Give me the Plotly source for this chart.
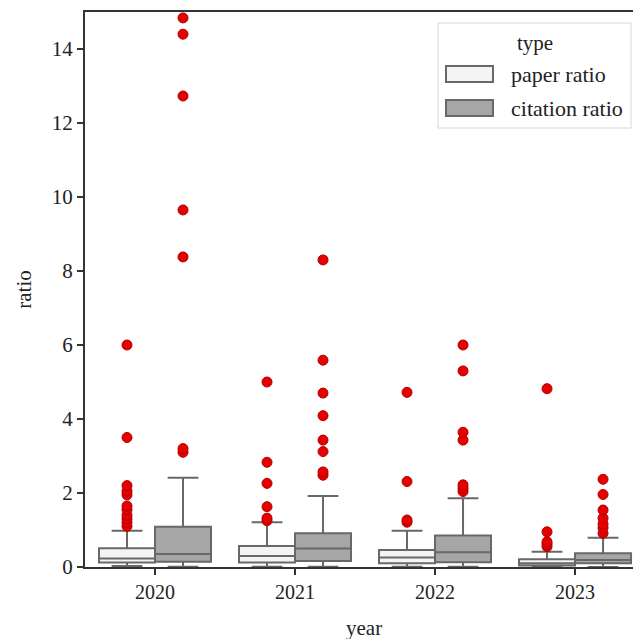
import plotly.graph_objects as go

years = ["2020", "2021", "2022", "2023"]

# paper ratio box stats
paper_q1 = [0.12, 0.12, 0.10, 0.04]
paper_med = [0.23, 0.30, 0.26, 0.10]
paper_q3 = [0.51, 0.57, 0.46, 0.21]
paper_lo = [0.03, 0.01, 0.01, 0.01]
paper_hi = [0.98, 1.21, 0.98, 0.41]
paper_out = [
    [1.1, 1.2, 1.3, 1.4, 1.55, 1.65, 1.95, 2.05, 2.2, 3.5, 6.0],
    [1.25, 1.32, 1.63, 2.26, 2.83, 5.0],
    [1.21, 1.27, 2.31, 4.72],
    [0.55, 0.62, 0.68, 0.95, 4.82],
]

# citation ratio box stats
cit_q1 = [0.14, 0.16, 0.13, 0.10]
cit_med = [0.35, 0.50, 0.40, 0.19]
cit_q3 = [1.09, 0.91, 0.85, 0.37]
cit_lo = [0.01, 0.01, 0.01, 0.0]
cit_hi = [2.41, 1.92, 1.86, 0.79]
cit_out = [
    [3.1, 3.2, 8.38, 9.65, 12.73, 14.4, 14.84],
    [2.48, 2.57, 3.12, 3.43, 4.09, 4.7, 5.59, 8.3],
    [2.04, 2.13, 2.22, 3.43, 3.64, 5.3, 6.0],
    [0.91, 1.06, 1.16, 1.32, 1.54, 1.96, 2.37],
]

series_names = ["paper ratio", "citation ratio"]
fills = ["#f4f4f4", "#a6a6a6"]

series = [
    (series_names[0], -0.2, paper_q1, paper_med, paper_q3, paper_lo, paper_hi, paper_out, fills[0]),
    (series_names[1], 0.2, cit_q1, cit_med, cit_q3, cit_lo, cit_hi, cit_out, fills[1]),
]

LINE = "#686868"
FONT = "Liberation Serif"
W, H = 633, 639
ML, MR, MT, MB = 85, 0, 12, 72
PW, PH = W - ML - MR, H - MT - MB


def px(xp):
    return (xp - ML) / PW


def py(yp):
    return (H - MB - yp) / PH


fig = go.Figure()
for name, off, q1, med, q3, lo, hi, out, fill in series:
    xs = [i + off for i in range(len(years))]
    fig.add_trace(go.Box(
        name=name, x=xs, q1=q1, median=med, q3=q3,
        lowerfence=lo, upperfence=hi,
        width=0.4, whiskerwidth=0.55,
        fillcolor=fill, line=dict(color=LINE, width=2),
        boxpoints=False, showlegend=False,
    ))
    ox, oy = [], []
    for i, vals in enumerate(out):
        for v in vals:
            ox.append(i + off)
            oy.append(v)
    fig.add_trace(go.Scatter(
        x=ox, y=oy, mode="markers", showlegend=False,
        marker=dict(color="#e60000", size=10, line=dict(color="#b00000", width=1)),
    ))

# legend drawn manually
shapes = [dict(type="rect", xref="paper", yref="paper",
               x0=px(438), x1=px(631), y0=py(128), y1=py(23),
               line=dict(color="#d6d6d6", width=1), fillcolor="white", layer="above")]
annotations = [dict(text="type", xref="paper", yref="paper", x=px(535), y=py(43),
                    xanchor="center", yanchor="middle", showarrow=False, font=dict(size=21))]
rows = [(66, 82, 75), (100, 116, 108)]
for (y0, y1, yc), nm, fc in zip(rows, series_names, fills):
    shapes.append(dict(type="rect", xref="paper", yref="paper",
                       x0=px(446), x1=px(493), y0=py(y1), y1=py(y0),
                       line=dict(color=LINE, width=2), fillcolor=fc, layer="above"))
    annotations.append(dict(text=nm, xref="paper", yref="paper", x=px(509), y=py(yc),
                            xanchor="left", yanchor="middle", showarrow=False, font=dict(size=22)))

annotations.append(dict(
    text="year", xref="paper", yref="paper", x=px(364), y=py(628),
    xanchor="center", yanchor="middle", showarrow=False, font=dict(size=21),
))

fig.update_layout(
    width=W, height=H,
    margin=dict(l=ML, r=MR, t=MT, b=MB, autoexpand=False),
    paper_bgcolor="white", plot_bgcolor="white",
    font=dict(family=FONT, size=20, color="#222"),
    showlegend=False,
    shapes=shapes,
    annotations=annotations,
)
fig.update_xaxes(
    range=[-0.5, 3.414], tickmode="array", tickvals=list(range(len(years))), ticktext=years,
    showline=True, linecolor="#333", linewidth=2, mirror=True,
    ticks="outside", ticklen=6, tickwidth=2, tickcolor="#333",
    showgrid=False, zeroline=False, tickfont=dict(size=20), automargin=False,
)
fig.update_yaxes(
    range=[0, 15], tickvals=[0, 2, 4, 6, 8, 10, 12, 14],
    showline=True, linecolor="#333", linewidth=2,
    ticks="outside", ticklen=6, tickwidth=2, tickcolor="#333",
    showgrid=False, zeroline=False, tickfont=dict(size=21), automargin=False,
    title=dict(text="ratio", font=dict(size=21), standoff=14),
)

fig.write_html("out.html", config={"displayModeBar": False},
               post_script="document.body.style.margin='0';")
